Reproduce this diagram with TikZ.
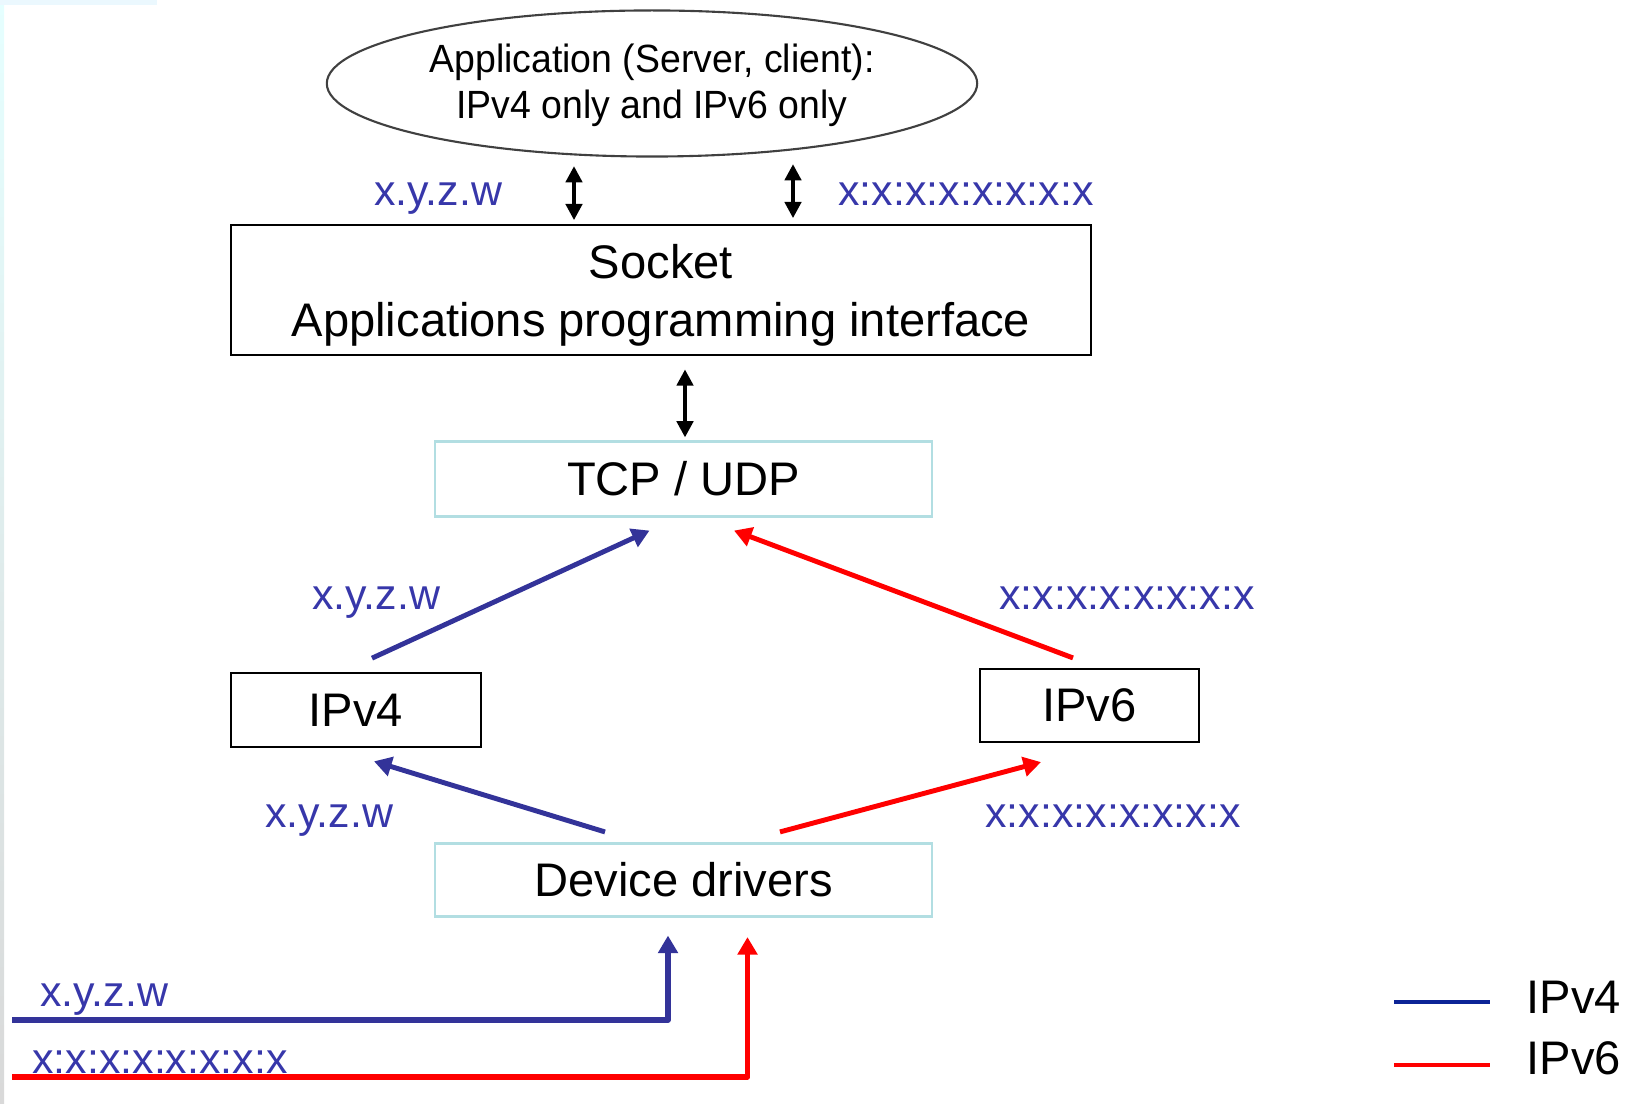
\documentclass[tikz,border=0pt]{standalone}
\usepackage{fontspec}
\setmainfont{Liberation Sans}
\newfontfamily\appfont[FakeStretch=0.95]{Liberation Sans}
\usepackage{tikz}
\usetikzlibrary{arrows.meta,calc,shapes.geometric}
\definecolor{vfour}{RGB}{51,51,153}
\definecolor{vsix}{RGB}{255,0,0}
\definecolor{addrtext}{RGB}{55,55,170}
\definecolor{keyfour}{RGB}{12,36,150}
\definecolor{paleedge}{RGB}{178,222,226}
\tikzset{
  layer/.style={draw=black,line width=0.6pt,inner sep=0pt,align=center,
    font=\fontsize{13.4}{16.6}\selectfont},
  palelayer/.style={layer,draw=paleedge},
  addr/.style={text=addrtext,inner sep=0pt,font=\fontsize{12.2}{14}\selectfont},
  duplex/.style={{Triangle[width=4.6pt,length=4.6pt]}-{Triangle[width=4.6pt,length=4.6pt]},line width=1.1pt},
  vfourflow/.style={-{Triangle[width=5.5pt,length=5pt]},vfour,line width=1.4pt,line join=round},
  vsixflow/.style={-{Triangle[width=5.5pt,length=5pt]},vsix,line width=1.4pt,line join=round},
}

\begin{document}
\begin{tikzpicture}[x=0.01cm,y=-0.01cm]
  \useasboundingbox (0,0) rectangle (1637,1104);
  \shade[top color=cyan!10,bottom color=gray!30] (0,0) rectangle (4,1104);
  \fill[cyan!8] (0,0) rectangle (157,5);

  % stack of layers
  \node[ellipse,draw=black!75,line width=0.6pt,minimum width=6.5cm,minimum height=1.46cm,
    inner sep=0pt,align=center,text height=22.4pt,font=\appfont\fontsize{11.2}{13.1}\selectfont]
    (app) at (652,83.5) {Application (Server, client):\\IPv4 only and IPv6 only};
  \node[layer,minimum width=8.6cm,minimum height=1.305cm,text height=29.2pt] (sock) at (661,290)
    {Socket\\Applications programming interface};
  \node[palelayer,minimum width=4.97cm,minimum height=0.75cm] (tcp) at (683.5,479) {TCP / UDP};
  \node[layer,minimum width=2.5cm,minimum height=0.735cm] (vfourbox) at (356,710) {IPv4};
  \node[layer,minimum width=2.19cm,minimum height=0.73cm] (vsixbox) at (1089.5,705.5) {IPv6};
  \node[palelayer,minimum width=4.97cm,minimum height=0.73cm] (drv) at (683.5,880) {Device drivers};

  % black two-way links
  \draw[duplex] ($(sock.north)+(-87,-57.5)$) -- ($(sock.north)+(-87,-3.5)$);
  \draw[duplex] ($(sock.north)+(132,-59.5)$) -- ($(sock.north)+(132,-5.5)$);
  \draw[duplex] ($(tcp.north)+(1.5,-71)$) -- ($(tcp.north)+(1.5,-3)$);

  % v4 / v6 paths
  \draw[vfourflow] ($(vfourbox.north)+(16,-14)$) -- ($(tcp.south)+(-34,13)$);
  \draw[vsixflow] ($(vsixbox.north)+(-16.5,-10)$) -- ($(tcp.south)+(50.5,13)$);
  \draw[vfourflow] ($(drv.north)+(-78.5,-10.5)$) -- ($(vfourbox.south)+(18,13.5)$);
  \draw[vsixflow] ($(drv.north)+(96.5,-10.5)$) -- ($(vsixbox.south)+(-48.5,19)$);

  \coordinate (vfourin) at (12,1020);
  \coordinate (vsixin) at (12,1077);
  \draw[vfourflow,line width=1.6pt] (vfourin) -| ($(drv.south)+(-15.5,18)$);
  \draw[vsixflow,line width=1.6pt] (vsixin) -| ($(drv.south)+(64,19.5)$);

  % address labels
  \node[addr] (appfour) at (438,198.5) {x.y.z.w};
  \node[addr] (appsix) at (966,194) {x:x:x:x:x:x:x:x};
  \node[addr] (upfour) at (376,602.5) {x.y.z.w};
  \node[addr] (upsix) at (1127,598) {x:x:x:x:x:x:x:x};
  \node[addr] (lowfour) at (329,821) {x.y.z.w};
  \node[addr] (lowsix) at (1113,816) {x:x:x:x:x:x:x:x};
  \node[addr] (infour) at (104,999.5) {x.y.z.w};
  \node[addr] (insix) at (160,1062) {x:x:x:x:x:x:x:x};

  % key
  \node[anchor=west,inner sep=0pt,font=\fontsize{13.4}{16}\selectfont] (keyfourtext) at (1526,997) {IPv4};
  \node[anchor=west,inner sep=0pt,font=\fontsize{13.4}{16}\selectfont] (keysixtext) at (1526,1058) {IPv6};
  \draw[keyfour,line width=1.4pt] ($(keyfourtext.west)+(-132,5)$) -- ++(96,0);
  \draw[vsix,line width=1.4pt] ($(keysixtext.west)+(-132,7)$) -- ++(96,0);
\end{tikzpicture}
\end{document}
